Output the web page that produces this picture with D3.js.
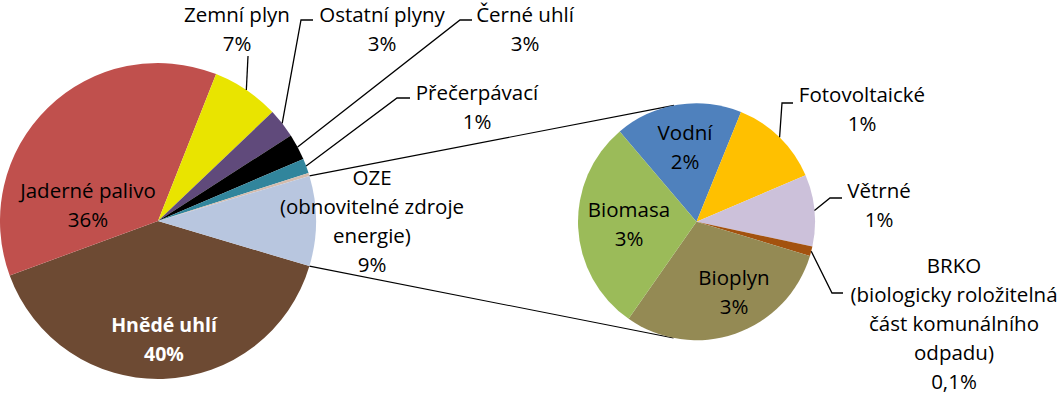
<!DOCTYPE html>
<html>
<head>
<meta charset="utf-8">
<script src="https://cdn.jsdelivr.net/npm/d3@7"></script>
<style>
  body { margin: 0; background: #fff; }
  svg { display: block; }
  text { font-family: "Open Sans", sans-serif; font-size: 20.5px; fill: #000; }
</style>
</head>
<body>
<svg></svg>
<script>
// main pie (share of total, %), OZE slice is the sum of the second pie
const mainCategories = ['Hnědé uhlí', 'Jaderné palivo', 'Zemní plyn', 'Ostatní plyny', 'Černé uhlí', 'Přečerpávací', 'Ostatní'];
const mainValues = [39.8, 36.6, 6.9, 3.0, 2.7, 1.5, 0.3];
const mainPercents = ['40%', '36%', '7%', '3%', '3%', '1%', ''];
const ozeCategory = 'OZE\n(obnovitelné zdroje\nenergie)';
const ozePercent = '9%';

// second pie: OZE breakdown (share of total, %)
const subCategories = ['Vodní', 'Fotovoltaické', 'Větrné', 'BRKO\n(biologicky roložitelná\nčást komunálního\nodpadu)', 'Bioplyn', 'Biomasa'];
const subValues = [1.6, 1.15, 0.9, 0.12, 2.77, 2.68];
const subPercents = ['2%', '1%', '1%', '0,1%', '3%', '3%'];

const mainColors = ['#6d4a33', '#c0504d', '#e9e400', '#604a7b', '#000000', '#31859c', '#d4bcae', '#b8c6df'];
const subColors = ['#4f81bd', '#ffc000', '#ccc1da', '#a3520f', '#948a54', '#9bbb59'];

const w = 1060; // svg width
const h = 400; // svg height
const c1 = [158, 221]; // main pie centre
const r1 = 158;
const c2 = [696.5, 221.7]; // second pie centre
const r2 = 118.5;
const subStart = -40.4 * Math.PI / 180;
const lh = 29; // label line height

// label anchors: [centre x, first baseline]
const mainLabelPos = [[164, 332], [88, 198], [237, 22], [382, 22], [525, 22], [477, 100], null, [372, 185]];
const mainLeaders = [null, null, [[248, 56]], [[301, 20], [313, 20]], [[460, 20], [472, 20]], [[397, 98], [410, 98]], null, null];
const subLabelPos = [[685, 140], [862, 102], [879, 198], [954, 273], [734, 285], [629, 217]];
const subLeaders = [null, [[782, 103], [793, 103]], [[830, 198], [842, 198]], [[832, 293], [843, 293]], null, null];

const svg = d3.select('svg').attr('width', w).attr('height', h);

const ozeTotal = d3.sum(subValues);
const mainData = mainValues.concat([ozeTotal]);
const ozeShare = ozeTotal / d3.sum(mainData);
const a0 = Math.PI / 2 + Math.PI * ozeShare; // centre OZE slice at 3 o'clock

const mainArcs = d3.pie().sort(null).value((d) => d)
  .startAngle(a0).endAngle(a0 + 2 * Math.PI)(mainData);
const subArcs = d3.pie().sort(null).value((d) => d)
  .startAngle(subStart).endAngle(subStart + 2 * Math.PI)(subValues);

const arc1 = d3.arc().innerRadius(0).outerRadius(r1);
const edge1 = d3.arc().innerRadius(r1).outerRadius(r1);
const arc2 = d3.arc().innerRadius(0).outerRadius(r2);
const edge2 = d3.arc().innerRadius(r2).outerRadius(r2);

// connector lines: from OZE slice corners, tangent to the second pie
const oze = mainArcs[mainArcs.length - 1];
const corner = (a) => [c1[0] + r1 * Math.sin(a), c1[1] - r1 * Math.cos(a)];
const tangent = (p, sign) => {
  const dx = p[0] - c2[0];
  const dy = p[1] - c2[1];
  const d = Math.hypot(dx, dy);
  const phi = Math.atan2(dy, dx) + sign * Math.acos(r2 / d);
  return [c2[0] + r2 * Math.cos(phi), c2[1] + r2 * Math.sin(phi)];
};
const pTop = corner(oze.startAngle);
const pBot = corner(oze.endAngle);
[[pTop, tangent(pTop, 1)], [pBot, tangent(pBot, -1)]].forEach((seg) => {
  svg.append('line')
    .attr('x1', seg[0][0]).attr('y1', seg[0][1])
    .attr('x2', seg[1][0]).attr('y2', seg[1][1])
    .attr('stroke', '#000').attr('stroke-width', 1.1);
});

// slices
svg.append('g')
  .attr('transform', 'translate(' + c1[0] + ',' + c1[1] + ')')
  .selectAll('path')
  .data(mainArcs)
  .enter()
  .append('path')
  .attr('d', arc1)
  .attr('fill', (d, i) => mainColors[i]);

svg.append('g')
  .attr('transform', 'translate(' + c2[0] + ',' + c2[1] + ')')
  .selectAll('path')
  .data(subArcs)
  .enter()
  .append('path')
  .attr('d', arc2)
  .attr('fill', (d, i) => subColors[i]);

// leader lines, starting at the middle of the slice edge
function leaders(arcs, edge, centre, elbows) {
  arcs.forEach((a, i) => {
    if (!elbows[i]) return;
    const e = edge.centroid(a);
    const pts = [[centre[0] + e[0], centre[1] + e[1]]].concat(elbows[i]);
    svg.append('path')
      .attr('d', d3.line()(pts))
      .attr('fill', 'none')
      .attr('stroke', '#000')
      .attr('stroke-width', 1.3);
  });
}
leaders(mainArcs, edge1, c1, mainLeaders);
leaders(subArcs, edge2, c2, subLeaders);

// labels
function label(pos, lines, style) {
  const t = svg.append('text').attr('text-anchor', 'middle');
  lines.forEach((s, j) => {
    t.append('tspan').attr('x', pos[0]).attr('y', pos[1] + j * lh).text(s);
  });
  if (style) {
    t.style('fill', '#fff').style('font-weight', 'bold').style('font-size', '19.5px');
  }
}
const mainNames = mainCategories.concat([ozeCategory]);
const mainPcts = mainPercents.concat([ozePercent]);
mainNames.forEach((name, i) => {
  if (!mainLabelPos[i]) return;
  label(mainLabelPos[i], name.split('\n').concat([mainPcts[i]]), i === 0);
});
subCategories.forEach((name, i) => {
  label(subLabelPos[i], name.split('\n').concat([subPercents[i]]), false);
});
</script>
</body>
</html>
